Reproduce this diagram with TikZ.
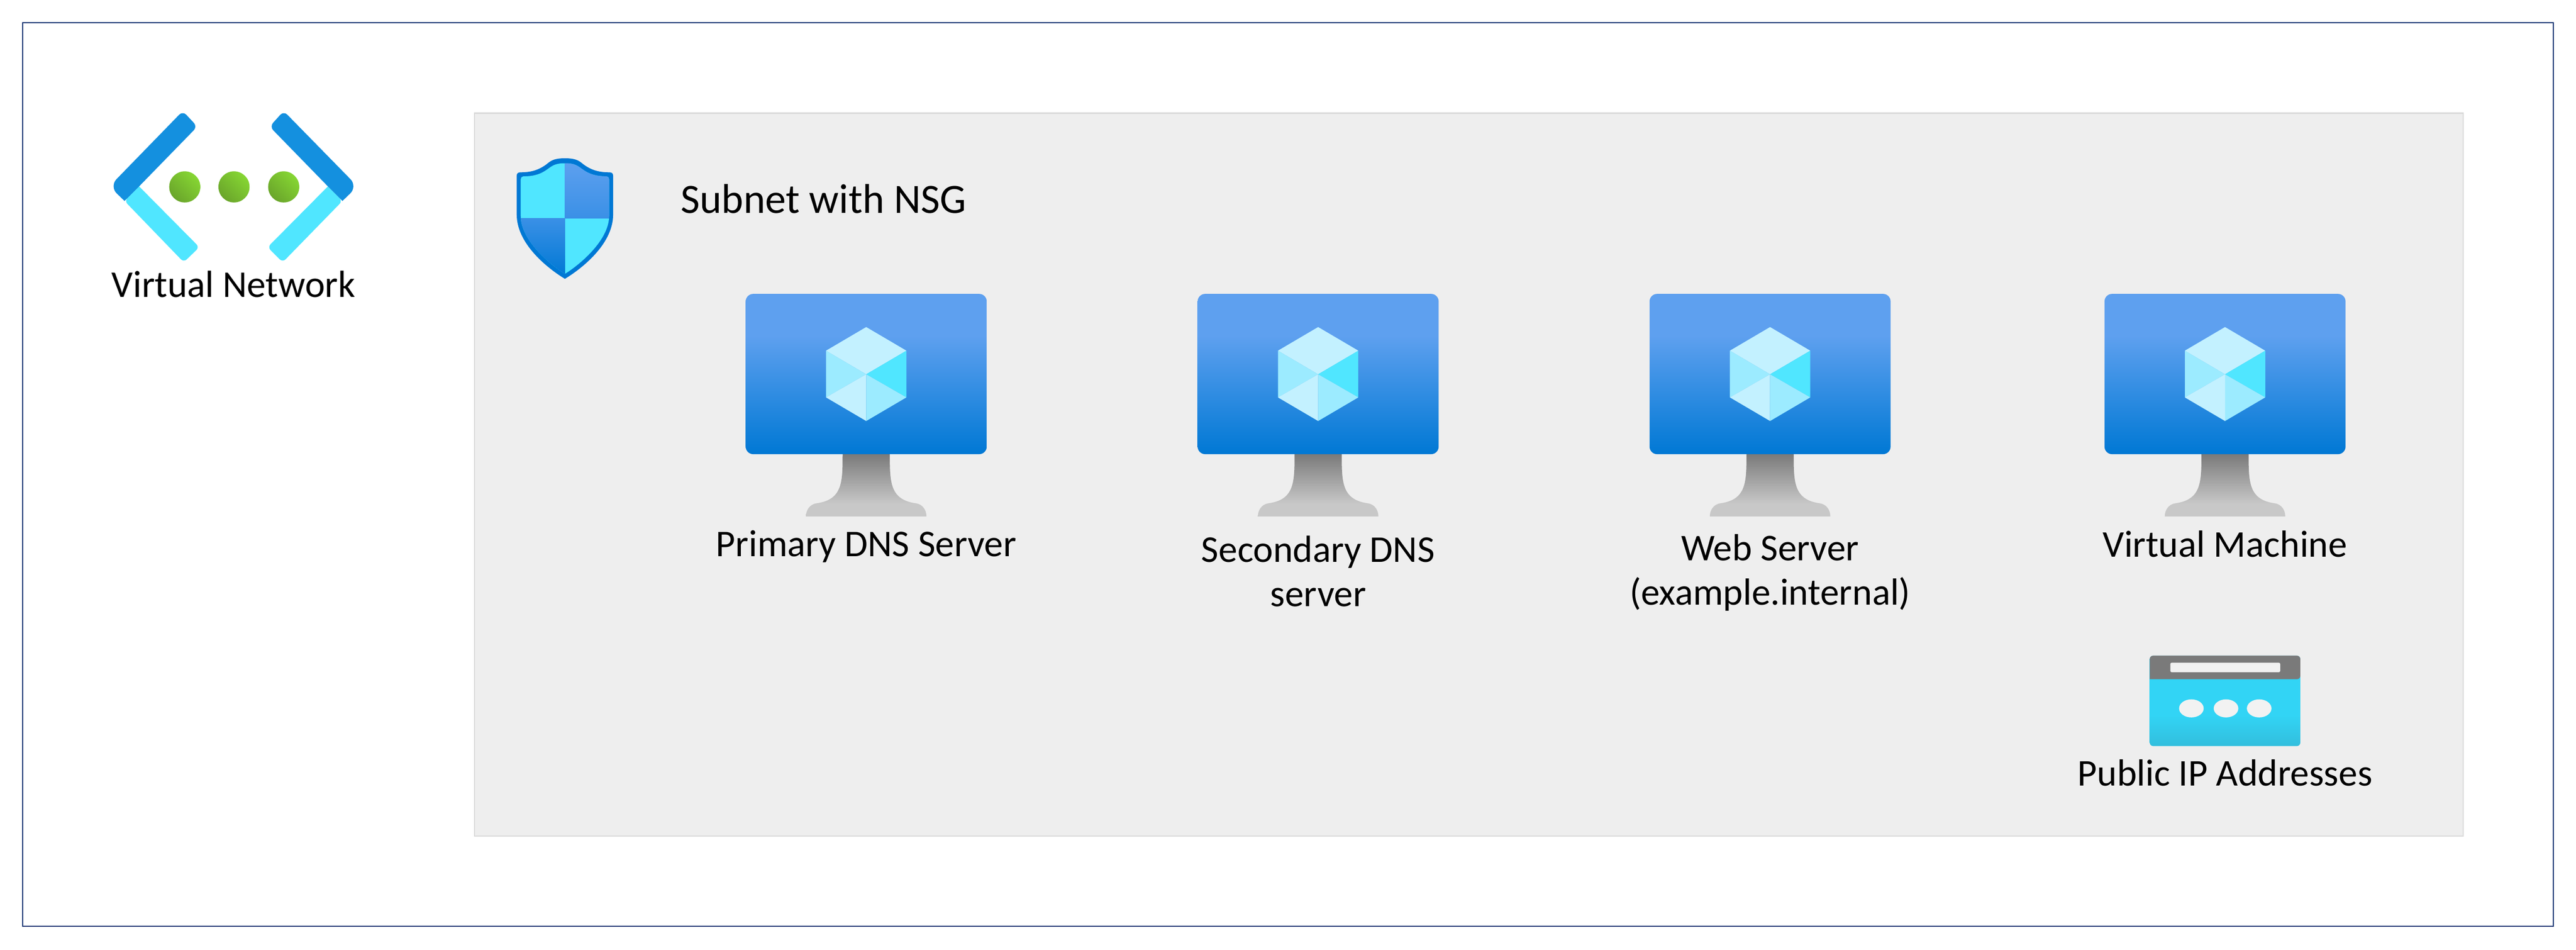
\documentclass[tikz,border=0pt]{standalone}
\usepackage{fontspec}
\setmainfont{Carlito}
\usetikzlibrary{positioning}
\definecolor{framecol}{HTML}{12306F}
\definecolor{panelfill}{HTML}{EEEEEE}
\definecolor{paneledge}{HTML}{D9D9D9}
\definecolor{screenhigh}{HTML}{5EA0EF}
\definecolor{screenlow}{HTML}{0078D4}
\definecolor{screenmid}{HTML}{3A90E6}
\definecolor{cubepale}{HTML}{C3F1FF}
\definecolor{cubesoft}{HTML}{9CEBFF}
\definecolor{cubebright}{HTML}{50E6FF}
\definecolor{standdark}{HTML}{7A7A7A}
\definecolor{standpale}{HTML}{C8C8C8}
\definecolor{bracketdark}{HTML}{1490DF}
\definecolor{dotlight}{HTML}{86D633}
\definecolor{dotdark}{HTML}{6AA52B}
\definecolor{ipbody}{HTML}{32D4F5}
\definecolor{ipbottom}{HTML}{32BEDD}
\definecolor{ipbar}{HTML}{F2F2F2}
\pgfdeclareverticalshading{screenfade}{100bp}{color(0bp)=(screenlow); color(25bp)=(screenlow); color(62bp)=(screenhigh); color(100bp)=(screenhigh)}
\pgfdeclareverticalshading{standfade}{100bp}{color(0bp)=(standpale); color(35bp)=(standpale); color(75bp)=(standdark); color(100bp)=(standdark)}
\pgfdeclareverticalshading{ipfade}{100bp}{color(0bp)=(ipbottom); color(25bp)=(ipbottom); color(42bp)=(ipbody); color(100bp)=(ipbody)}
\tikzset{
    lbl/.style={font=\fontsize{21.4}{25}\selectfont, align=center, inner sep=0pt},
    greendot/.style={circle, minimum size=0.62cm, inner sep=0pt, left color=dotlight, right color=dotdark, shading angle=-45},
    vmicon/.pic={
        % stand
        \path[shading=standfade] (-0.47,-3.19) .. controls (-0.47,-3.75) and (-0.47,-4.1) .. (-1.0,-4.17)
            .. controls (-1.12,-4.19) and (-1.2,-4.3) .. (-1.2,-4.43) -- (1.2,-4.43)
            .. controls (1.2,-4.3) and (1.12,-4.19) .. (1.0,-4.17)
            .. controls (0.47,-4.1) and (0.47,-3.75) .. (0.47,-3.19) -- cycle;
        % screen
        \path[shading=screenfade, rounded corners=0.15cm] (-2.4,0) rectangle (2.4,-3.19);
        % cube
        \fill[cubepale] (0,-0.66) -- (0.8,-1.13) -- (0,-1.6) -- (-0.8,-1.13) -- cycle;
        \fill[cubesoft] (-0.8,-1.13) -- (0,-1.6) -- (-0.8,-2.06) -- cycle;
        \fill[cubebright] (0.8,-1.13) -- (0,-1.6) -- (0.8,-2.06) -- cycle;
        \fill[cubepale] (0,-1.6) -- (0,-2.53) -- (-0.8,-2.06) -- cycle;
        \fill[cubesoft] (0,-1.6) -- (0,-2.53) -- (0.8,-2.06) -- cycle;
    }
}
\begin{document}
\begin{tikzpicture}
    \useasboundingbox (0,0) rectangle (51.3,18.9);
    \draw[framecol, line width=0.025cm] (0.45,0.46) rectangle (50.85,18.45);
    \draw[paneledge, fill=panelfill, line width=0.025cm] (9.45,2.26) rectangle (49.05,16.65);

    % virtual network icon
    \fill[cubebright, rounded corners=0.08cm] (2.77,15.19) -- (3.97,13.98) -- (3.66,13.68) -- (2.48,14.9) [sharp corners] -- cycle;
    \fill[cubebright, rounded corners=0.08cm] (6.53,15.19) -- (5.33,13.98) -- (5.63,13.68) -- (6.82,14.9) [sharp corners] -- cycle;
    \fill[bracketdark] (2.77,15.19) -- (2.48,14.9) [rounded corners=0.2cm] -- (2.18,15.19) [rounded corners=0.1cm] -- (3.64,16.69) -- (3.93,16.38) [sharp corners] -- cycle;
    \fill[bracketdark] (6.53,15.19) -- (6.82,14.9) [rounded corners=0.2cm] -- (7.12,15.19) [rounded corners=0.1cm] -- (5.65,16.69) -- (5.37,16.38) [sharp corners] -- cycle;
    \node[greendot] (dotleft) at (3.68,15.18) {};
    \node[greendot] (dotmid) at (4.66,15.18) {};
    \node[greendot] (dotright) at (5.65,15.18) {};
    \node[lbl] (vnetlabel) at (4.65,13.24) {Virtual Network};

    % shield
    \fill[screenlow] (11.25,15.75) .. controls (11.5,15.75) and (11.55,15.68) .. (11.63,15.62)
        .. controls (11.8,15.5) and (11.95,15.47) .. (12.14,15.47) .. controls (12.19,15.47) and (12.21,15.44) .. (12.21,15.4)
        -- (12.21,14.63) .. controls (12.21,14.0) and (11.5,13.5) .. (11.25,13.35)
        .. controls (11.0,13.5) and (10.29,14.0) .. (10.29,14.63) -- (10.29,15.4)
        .. controls (10.29,15.44) and (10.31,15.47) .. (10.36,15.47)
        .. controls (10.55,15.47) and (10.7,15.5) .. (10.87,15.62) .. controls (10.95,15.68) and (11.0,15.75) .. (11.25,15.75) -- cycle;
    \begin{scope}
        \clip (11.25,15.65) .. controls (11.45,15.65) and (11.5,15.6) .. (11.6,15.53)
            .. controls (11.75,15.42) and (11.9,15.39) .. (12.08,15.39) .. controls (12.11,15.39) and (12.13,15.36) .. (12.13,15.33)
            -- (12.13,14.6) .. controls (12.13,14.1) and (11.5,13.6) .. (11.25,13.45)
            .. controls (11.0,13.6) and (10.37,14.1) .. (10.37,14.6) -- (10.37,15.33)
            .. controls (10.37,15.36) and (10.39,15.39) .. (10.42,15.39)
            .. controls (10.6,15.39) and (10.75,15.42) .. (10.9,15.53) .. controls (11.0,15.6) and (11.05,15.65) .. (11.25,15.65) -- cycle;
        \fill[cubebright] (10.2,13.3) rectangle (12.3,15.8);
        \path[top color=screenhigh, bottom color=screenmid] (11.25,14.55) rectangle (12.3,15.7);
        \path[top color=screenmid, bottom color=screenlow] (10.2,13.4) rectangle (11.25,14.55);
    \end{scope}
    \node[lbl, anchor=west, font=\fontsize{23.6}{28}\selectfont] (subnetlabel) at (13.55,14.94) {Subnet with NSG};

    % virtual machines
    \pic (vmprimary) at (17.25,13.05) {vmicon};
    \pic (vmsecondary) at (26.25,13.05) {vmicon};
    \pic (vmweb) at (35.25,13.05) {vmicon};
    \pic (vmplain) at (44.31,13.05) {vmicon};
    \node[lbl] (primarylabel) at (17.25,8.02) {Primary DNS Server};
    \node[lbl] (secondarylabel) at (26.25,7.53) {Secondary DNS\\server};
    \node[lbl] (weblabel) at (35.25,7.5) {Web Server\\(example.internal)};
    \node[lbl] (plainlabel) at (44.31,8.07) {Virtual Machine};

    % public ip icon
    \path[shading=ipfade, rounded corners=0.07cm] (42.81,5.85) rectangle (45.81,4.05);
    \fill[standdark, rounded corners=0.07cm] (42.81,5.38) -- (42.81,5.85) -- (45.81,5.85) -- (45.81,5.38) [sharp corners] -- cycle;
    \fill[ipbar, rounded corners=0.03cm] (43.22,5.52) rectangle (45.41,5.71);
    \fill[ipbar] (43.64,4.8) ellipse (0.245 and 0.18);
    \fill[ipbar] (44.33,4.8) ellipse (0.245 and 0.18);
    \fill[ipbar] (44.99,4.8) ellipse (0.245 and 0.18);
    \node[lbl] (iplabel) at (44.31,3.52) {Public IP Addresses};
\end{tikzpicture}
\end{document}
